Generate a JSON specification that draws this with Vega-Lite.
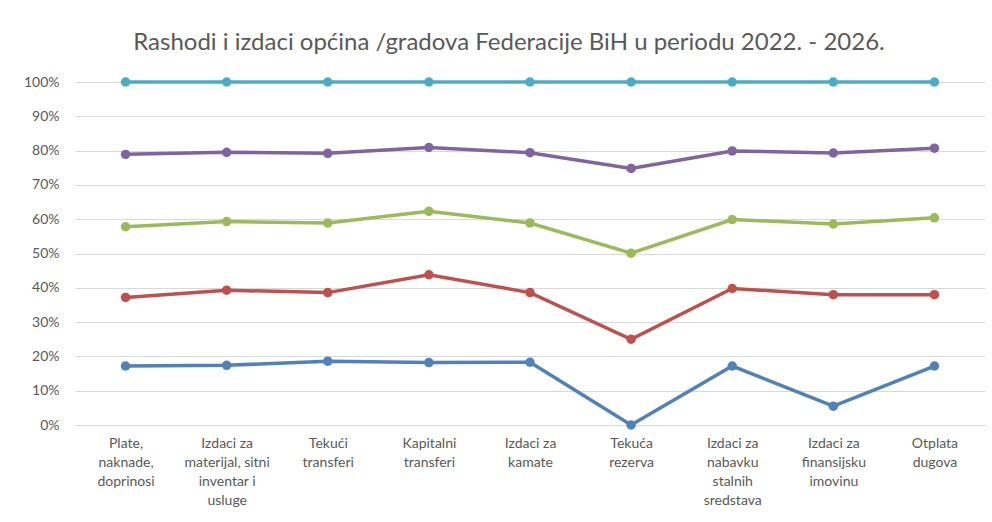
{
  "$schema": "https://vega.github.io/schema/vega-lite/v6.json",
  "width": 910,
  "height": 343,
  "autosize": {"type": "none"},
  "padding": {"left": 75, "top": 82, "right": 7, "bottom": 97},
  "background": "white",
  "config": {
    "view": {"stroke": null},
    "font": "Lato",
    "axis": {"labelFont": "Lato", "labelColor": "#595959", "labelFontSize": 14}
  },
  "title": {
    "text": "Rashodi i izdaci općina /gradova Federacije BiH u periodu 2022. - 2026.",
    "font": "Lato",
    "fontSize": 24,
    "fontWeight": "normal",
    "color": "#595959",
    "anchor": "middle",
    "dx": -21,
    "offset": 20
  },
  "data": {
    "values": [
      {"kategorija": "Plate, naknade, doprinosi", "serija": "2022", "udio": 0.172},
      {"kategorija": "Izdaci za materijal, sitni inventar i usluge", "serija": "2022", "udio": 0.174},
      {"kategorija": "Tekući transferi", "serija": "2022", "udio": 0.186},
      {"kategorija": "Kapitalni transferi", "serija": "2022", "udio": 0.182},
      {"kategorija": "Izdaci za kamate", "serija": "2022", "udio": 0.183},
      {"kategorija": "Tekuća rezerva", "serija": "2022", "udio": 0.0},
      {"kategorija": "Izdaci za nabavku stalnih sredstava", "serija": "2022", "udio": 0.172},
      {"kategorija": "Izdaci za finansijsku imovinu", "serija": "2022", "udio": 0.055},
      {"kategorija": "Otplata dugova", "serija": "2022", "udio": 0.172},
      {"kategorija": "Plate, naknade, doprinosi", "serija": "2023", "udio": 0.372},
      {"kategorija": "Izdaci za materijal, sitni inventar i usluge", "serija": "2023", "udio": 0.393},
      {"kategorija": "Tekući transferi", "serija": "2023", "udio": 0.386},
      {"kategorija": "Kapitalni transferi", "serija": "2023", "udio": 0.438},
      {"kategorija": "Izdaci za kamate", "serija": "2023", "udio": 0.386},
      {"kategorija": "Tekuća rezerva", "serija": "2023", "udio": 0.25},
      {"kategorija": "Izdaci za nabavku stalnih sredstava", "serija": "2023", "udio": 0.398},
      {"kategorija": "Izdaci za finansijsku imovinu", "serija": "2023", "udio": 0.38},
      {"kategorija": "Otplata dugova", "serija": "2023", "udio": 0.38},
      {"kategorija": "Plate, naknade, doprinosi", "serija": "2024", "udio": 0.578},
      {"kategorija": "Izdaci za materijal, sitni inventar i usluge", "serija": "2024", "udio": 0.593},
      {"kategorija": "Tekući transferi", "serija": "2024", "udio": 0.589},
      {"kategorija": "Kapitalni transferi", "serija": "2024", "udio": 0.623},
      {"kategorija": "Izdaci za kamate", "serija": "2024", "udio": 0.589},
      {"kategorija": "Tekuća rezerva", "serija": "2024", "udio": 0.501},
      {"kategorija": "Izdaci za nabavku stalnih sredstava", "serija": "2024", "udio": 0.599},
      {"kategorija": "Izdaci za finansijsku imovinu", "serija": "2024", "udio": 0.586},
      {"kategorija": "Otplata dugova", "serija": "2024", "udio": 0.604},
      {"kategorija": "Plate, naknade, doprinosi", "serija": "2025", "udio": 0.789},
      {"kategorija": "Izdaci za materijal, sitni inventar i usluge", "serija": "2025", "udio": 0.795},
      {"kategorija": "Tekući transferi", "serija": "2025", "udio": 0.792},
      {"kategorija": "Kapitalni transferi", "serija": "2025", "udio": 0.809},
      {"kategorija": "Izdaci za kamate", "serija": "2025", "udio": 0.794},
      {"kategorija": "Tekuća rezerva", "serija": "2025", "udio": 0.748},
      {"kategorija": "Izdaci za nabavku stalnih sredstava", "serija": "2025", "udio": 0.799},
      {"kategorija": "Izdaci za finansijsku imovinu", "serija": "2025", "udio": 0.793},
      {"kategorija": "Otplata dugova", "serija": "2025", "udio": 0.807},
      {"kategorija": "Plate, naknade, doprinosi", "serija": "2026", "udio": 1.0},
      {"kategorija": "Izdaci za materijal, sitni inventar i usluge", "serija": "2026", "udio": 1.0},
      {"kategorija": "Tekući transferi", "serija": "2026", "udio": 1.0},
      {"kategorija": "Kapitalni transferi", "serija": "2026", "udio": 1.0},
      {"kategorija": "Izdaci za kamate", "serija": "2026", "udio": 1.0},
      {"kategorija": "Tekuća rezerva", "serija": "2026", "udio": 1.0},
      {"kategorija": "Izdaci za nabavku stalnih sredstava", "serija": "2026", "udio": 1.0},
      {"kategorija": "Izdaci za finansijsku imovinu", "serija": "2026", "udio": 1.0},
      {"kategorija": "Otplata dugova", "serija": "2026", "udio": 1.0}
    ]
  },
  "mark": {"type": "line", "strokeWidth": 3.5, "point": {"filled": true, "size": 90}},
  "encoding": {
    "x": {
      "field": "kategorija",
      "type": "nominal",
      "sort": null,
      "scale": {"type": "point", "padding": 0.5},
      "axis": {
        "title": null,
        "labelAngle": 0,
        "ticks": false,
        "grid": false,
        "domain": true,
        "domainColor": "#D9D9D9",
        "domainWidth": 1,
        "labelPadding": 11,
        "labelBaseline": "top",
        "labelLineHeight": 19,
        "labelLimit": 0,
        "labelExpr": "datum.label == 'Plate, naknade, doprinosi' ? ['Plate,', 'naknade,', 'doprinosi'] : datum.label == 'Izdaci za materijal, sitni inventar i usluge' ? ['Izdaci za', 'materijal, sitni', 'inventar i', 'usluge'] : datum.label == 'Tekući transferi' ? ['Tekući', 'transferi'] : datum.label == 'Kapitalni transferi' ? ['Kapitalni', 'transferi'] : datum.label == 'Izdaci za kamate' ? ['Izdaci za', 'kamate'] : datum.label == 'Tekuća rezerva' ? ['Tekuća', 'rezerva'] : datum.label == 'Izdaci za nabavku stalnih sredstava' ? ['Izdaci za', 'nabavku', 'stalnih', 'sredstava'] : datum.label == 'Izdaci za finansijsku imovinu' ? ['Izdaci za', 'finansijsku', 'imovinu'] : ['Otplata', 'dugova']"
      }
    },
    "y": {
      "field": "udio",
      "type": "quantitative",
      "scale": {"domain": [0, 1], "nice": false},
      "axis": {
        "title": null,
        "format": ".0%",
        "values": [0, 0.1, 0.2, 0.3, 0.4, 0.5, 0.6, 0.7, 0.8, 0.9, 1.0],
        "domain": false,
        "ticks": false,
        "gridColor": "#D9D9D9",
        "gridWidth": 1,
        "labelPadding": 16
      }
    },
    "color": {
      "field": "serija",
      "type": "nominal",
      "legend": null,
      "scale": {
        "domain": ["2022", "2023", "2024", "2025", "2026"],
        "range": ["#4F81BD", "#C0504D", "#9BBB59", "#8064A2", "#4BACC6"]
      }
    }
  }
}
